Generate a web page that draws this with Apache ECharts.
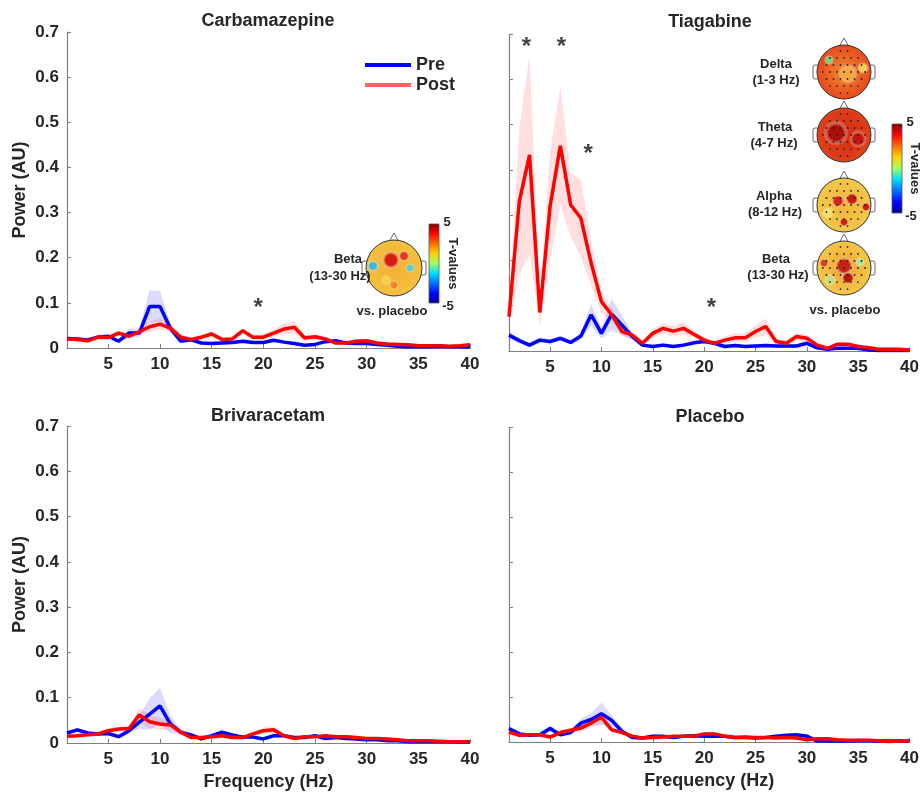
<!DOCTYPE html>
<html>
<head>
<meta charset="utf-8" />
<title>Power spectra</title>
<script src="https://cdn.jsdelivr.net/npm/echarts/dist/echarts.min.js"></script>
<style type="text/css">
	body{margin:0;background:#fff;}
	#main{width:922px;height:792px;}
</style>
</head>
<body>
<div id="main"></div>
<script type="text/javascript">
// frequency bins 1..40 Hz
var freqs = [1,2,3,4,5,6,7,8,9,10,11,12,13,14,15,16,17,18,19,20,21,22,23,24,25,26,27,28,29,30,31,32,33,34,35,36,37,38,39,40];
var xTicks = [5,10,15,20,25,30,35,40];
var panelNames = ['Carbamazepine','Tiagabine','Brivaracetam','Placebo'];

// Carbamazepine
var carbPre  = [0.021,0.020,0.018,0.024,0.026,0.015,0.033,0.033,0.092,0.092,0.044,0.015,0.018,0.011,0.010,0.011,0.012,0.015,0.012,0.012,0.017,0.013,0.010,0.006,0.008,0.014,0.016,0.011,0.010,0.010,0.008,0.006,0.004,0.003,0.003,0.003,0.004,0.003,0.003,0.002];
var carbPost = [0.020,0.019,0.016,0.024,0.023,0.033,0.026,0.036,0.047,0.053,0.044,0.024,0.019,0.024,0.031,0.019,0.020,0.038,0.024,0.024,0.033,0.042,0.046,0.022,0.025,0.020,0.011,0.011,0.015,0.016,0.011,0.009,0.008,0.007,0.005,0.005,0.005,0.004,0.005,0.007];
var carbPreErr  = [0.004,0.004,0.004,0.006,0.004,0.004,0.010,0.010,0.036,0.034,0.010,0.004,0.004,0.003,0.003,0.003,0.003,0.003,0.003,0.003,0.003,0.003,0.003,0.003,0.003,0.003,0.003,0.003,0.003,0.003,0.003,0.002,0.002,0.002,0.002,0.002,0.002,0.002,0.002,0.002];
var carbPostErr = [0.004,0.004,0.004,0.005,0.005,0.006,0.005,0.006,0.012,0.012,0.008,0.005,0.005,0.005,0.006,0.005,0.005,0.006,0.005,0.006,0.008,0.012,0.014,0.006,0.006,0.006,0.004,0.004,0.004,0.004,0.003,0.003,0.003,0.003,0.003,0.003,0.003,0.003,0.003,0.003];

// Tiagabine
var tiagPre  = [0.035,0.023,0.013,0.024,0.021,0.028,0.019,0.033,0.080,0.039,0.081,0.057,0.032,0.013,0.010,0.013,0.010,0.013,0.018,0.021,0.017,0.010,0.012,0.010,0.011,0.012,0.011,0.011,0.011,0.017,0.007,0.004,0.006,0.006,0.006,0.002,0.001,0.001,0.001,0.001];
var tiagPost = [0.076,0.330,0.433,0.085,0.320,0.453,0.323,0.293,0.194,0.109,0.080,0.043,0.035,0.017,0.039,0.050,0.044,0.050,0.037,0.024,0.017,0.024,0.029,0.029,0.043,0.054,0.021,0.017,0.032,0.028,0.013,0.006,0.015,0.015,0.010,0.007,0.004,0.004,0.004,0.002];
var tiagPreErr  = [0.008,0.006,0.005,0.006,0.005,0.006,0.005,0.008,0.025,0.012,0.035,0.022,0.008,0.004,0.004,0.004,0.004,0.004,0.004,0.004,0.004,0.004,0.004,0.004,0.004,0.004,0.004,0.004,0.004,0.004,0.003,0.003,0.003,0.003,0.003,0.002,0.002,0.002,0.002,0.002];
var tiagPostErr = [0.020,0.160,0.220,0.030,0.120,0.130,0.070,0.085,0.050,0.025,0.015,0.010,0.008,0.006,0.010,0.012,0.012,0.014,0.008,0.006,0.006,0.008,0.010,0.010,0.014,0.018,0.006,0.006,0.008,0.008,0.005,0.004,0.004,0.004,0.004,0.003,0.003,0.003,0.003,0.003];

// Brivaracetam
var brivPre  = [0.022,0.029,0.022,0.020,0.021,0.014,0.027,0.046,0.064,0.082,0.042,0.024,0.018,0.009,0.016,0.024,0.018,0.013,0.013,0.009,0.016,0.016,0.012,0.012,0.016,0.010,0.012,0.010,0.009,0.007,0.007,0.005,0.005,0.003,0.003,0.003,0.003,0.003,0.002,0.002];
var brivPost = [0.015,0.016,0.018,0.020,0.027,0.031,0.032,0.062,0.047,0.042,0.040,0.024,0.012,0.012,0.014,0.016,0.012,0.012,0.020,0.027,0.029,0.016,0.010,0.014,0.014,0.016,0.014,0.014,0.012,0.010,0.010,0.009,0.007,0.005,0.005,0.005,0.004,0.003,0.003,0.003];
var brivPreErr  = [0.004,0.004,0.004,0.004,0.004,0.004,0.005,0.015,0.035,0.040,0.020,0.006,0.004,0.003,0.003,0.004,0.003,0.003,0.003,0.003,0.003,0.003,0.003,0.003,0.003,0.003,0.003,0.003,0.003,0.002,0.002,0.002,0.002,0.002,0.002,0.002,0.002,0.002,0.002,0.002];
var brivPostErr = [0.004,0.004,0.004,0.004,0.005,0.005,0.005,0.016,0.014,0.014,0.010,0.005,0.003,0.003,0.003,0.003,0.003,0.003,0.005,0.008,0.008,0.004,0.003,0.003,0.003,0.003,0.003,0.003,0.003,0.003,0.003,0.003,0.002,0.002,0.002,0.002,0.002,0.002,0.002,0.002];

// Placebo
var placPre  = [0.030,0.018,0.015,0.016,0.030,0.016,0.021,0.042,0.050,0.063,0.048,0.024,0.010,0.009,0.013,0.013,0.010,0.013,0.014,0.013,0.013,0.013,0.010,0.010,0.009,0.010,0.013,0.015,0.016,0.013,0.002,0.003,0.002,0.002,0.003,0.003,0.002,0.002,0.002,0.002];
var placPost = [0.022,0.015,0.016,0.016,0.011,0.021,0.026,0.031,0.042,0.055,0.027,0.021,0.013,0.009,0.010,0.011,0.013,0.013,0.013,0.018,0.018,0.013,0.010,0.011,0.010,0.010,0.009,0.010,0.009,0.005,0.007,0.007,0.005,0.004,0.004,0.004,0.003,0.001,0.002,0.002];
var placPreErr  = [0.005,0.004,0.004,0.004,0.007,0.004,0.006,0.010,0.014,0.025,0.012,0.005,0.003,0.003,0.003,0.003,0.003,0.003,0.003,0.003,0.003,0.003,0.003,0.003,0.003,0.003,0.003,0.003,0.003,0.003,0.002,0.002,0.002,0.002,0.002,0.002,0.002,0.002,0.002,0.002];
var placPostErr = [0.004,0.004,0.004,0.004,0.004,0.005,0.005,0.008,0.010,0.013,0.006,0.004,0.003,0.003,0.003,0.003,0.003,0.003,0.003,0.004,0.004,0.003,0.003,0.003,0.003,0.003,0.003,0.003,0.003,0.002,0.002,0.002,0.002,0.002,0.002,0.002,0.002,0.002,0.002,0.002];

// significance stars  [Hz, power]
var carbStars = [[19.5,0.100]];
var tiagStars = [[2.7,0.683],[6.1,0.683],[8.7,0.447],[20.7,0.108]];

var preList  = [carbPre, tiagPre, brivPre, placPre];
var postList = [carbPost, tiagPost, brivPost, placPost];
var preErrList  = [carbPreErr, tiagPreErr, brivPreErr, placPreErr];
var postErrList = [carbPostErr, tiagPostErr, brivPostErr, placPostErr];
var starList = [carbStars, tiagStars, [], []];

var txt = '#262626';
var axisGray = '#7f7f7f';
var fontF = '"Liberation Sans", Arial, sans-serif';

var grids = [
	{left:67, top:32, width:403, height:316},
	{left:509, top:34, width:403, height:317},
	{left:67, top:426, width:403, height:318},
	{left:509, top:427, width:403, height:315}
];

function pairs(v){
	return freqs.map(function(f,i){ return [f, v[i]]; });
}
// band rows: [Hz, low, high]
function bandRows(v,e){
	return freqs.map(function(f,i){ return [f, Math.max(0, v[i]-e[i]), v[i]+e[i]]; });
}
// draws the whole shaded band as one polygon through the axis scale
function bandSeries(g, rows, color){
	return {
		name:'band', type:'custom', xAxisIndex:g, yAxisIndex:g, data:rows, silent:true, z:1,
		encode:{x:0, y:[1,2]},
		renderItem:function(params, api){
			if (params.dataIndex !== 0) return null;
			var top = [], bot = [];
			rows.forEach(function(r){
				top.push(api.coord([r[0], r[2]]));
				bot.unshift(api.coord([r[0], r[1]]));
			});
			return {type:'polygon', shape:{points:top.concat(bot)}, style:{fill:color, stroke:null}};
		}
	};
}

var xAxes = [], yAxes = [], series = [];
for (var g=0; g<4; g++){
	var bottomRow = g>=2, leftCol = (g%2)==0;
	xAxes.push({
		gridIndex:g, type:'value', min:1, max:40,
		name: bottomRow ? 'Frequency (Hz)' : '',
		nameLocation:'middle', nameGap:30,
		nameTextStyle:{color:txt, fontSize:18, fontWeight:'bold', fontFamily:fontF},
		axisLine:{lineStyle:{color:axisGray, width:1.2}},
		axisTick:{inside:true, length:4, customValues:xTicks, lineStyle:{color:axisGray}},
		axisLabel:{customValues:xTicks, color:txt, fontSize:17, fontWeight:'bold', fontFamily:fontF, margin:8},
		splitLine:{show:false}
	});
	yAxes.push({
		gridIndex:g, type:'value', min:0, max:0.7, interval:0.1,
		name: leftCol ? 'Power (AU)' : '',
		nameLocation:'middle', nameGap:38,
		nameTextStyle:{color:txt, fontSize:18, fontWeight:'bold', fontFamily:fontF},
		axisLine:{show:true, lineStyle:{color:axisGray, width:1.2}},
		axisTick:{show:true, inside:true, length:4, lineStyle:{color:axisGray}},
		axisLabel:{show:leftCol, color:txt, fontSize:17, fontWeight:'bold', fontFamily:fontF, margin:8,
			formatter:function(v){ return v===0 ? '0' : v.toFixed(1); }},
		splitLine:{show:false}
	});
	series.push(bandSeries(g, bandRows(preList[g], preErrList[g]), 'rgba(40,40,255,0.17)'));
	series.push(bandSeries(g, bandRows(postList[g], postErrList[g]), 'rgba(255,40,40,0.15)'));
	series.push({
		name:'Pre', type:'line', xAxisIndex:g, yAxisIndex:g, data:pairs(preList[g]),
		symbol:'none', lineStyle:{color:'#0000ff', width:3.5}, itemStyle:{color:'#0000ff'}, z:3
	});
	series.push({
		name:'Post', type:'line', xAxisIndex:g, yAxisIndex:g, data:pairs(postList[g]),
		symbol:'none', lineStyle:{color:'#ff0000', width:3.5}, itemStyle:{color:'#ff0000'}, z:4
	});
	if (starList[g].length){
		series.push({
			name:'stars', type:'scatter', xAxisIndex:g, yAxisIndex:g, data:starList[g],
			symbolSize:1, itemStyle:{color:'rgba(0,0,0,0)'}, silent:true, z:5,
			label:{show:true, position:'inside', formatter:'*', offset:[0,6],
				color:'#111', fontSize:24, fontWeight:'bold', fontFamily:fontF}
		});
	}
}

// topoplot decorations
var jet = [
	{offset:0, color:'#800000'},{offset:0.12, color:'#ff0000'},{offset:0.37, color:'#ffd000'},
	{offset:0.5, color:'#a0ff60'},{offset:0.62, color:'#00e0ff'},{offset:0.88, color:'#0000ff'},{offset:1, color:'#000090'}
];
function blob(cx,cy,rx,ry,color){
	return {type:'ellipse', shape:{cx:cx, cy:cy, rx:rx, ry:ry}, silent:true, z:10,
		style:{fill:{type:'radial', x:0.5, y:0.5, r:0.5, colorStops:[{offset:0, color:color},{offset:0.55, color:color},{offset:1, color:'rgba(255,255,255,0)'}]}}};
}
// electrode dots inside a head
function dots(cx,cy,r){
	var els = [];
	for (var yy=-3; yy<=3; yy++){
		for (var xx=-3; xx<=3; xx++){
			var px = cx + xx*r*0.26 + (yy%2 ? r*0.13 : 0), py = cy + yy*r*0.26;
			if ((px-cx)*(px-cx)+(py-cy)*(py-cy) < (r*0.86)*(r*0.86)){
				els.push({type:'circle', shape:{cx:px, cy:py, r:0.9}, z:11, silent:true, style:{fill:'#222'}});
			}
		}
	}
	return els;
}
function head(cx,cy,r,base,rim,blobs,withDots){
	var els = [];
	els.push({type:'polygon', shape:{points:[[cx-5,cy-r+2],[cx,cy-r-7],[cx+5,cy-r+2]]}, z:9, silent:true, style:{fill:'#fff', stroke:'#666', lineWidth:1}});
	els.push({type:'rect', shape:{x:cx-r-4, y:cy-7, width:6, height:14, r:2}, z:9, silent:true, style:{fill:'#fff', stroke:'#666', lineWidth:1}});
	els.push({type:'rect', shape:{x:cx+r-2, y:cy-7, width:6, height:14, r:2}, z:9, silent:true, style:{fill:'#fff', stroke:'#666', lineWidth:1}});
	els.push({type:'circle', shape:{cx:cx, cy:cy, r:r}, z:9, silent:true,
		style:{fill:{type:'radial', x:0.5, y:0.5, r:0.5, colorStops:[{offset:0, color:base},{offset:1, color:rim}]}}});
	blobs.forEach(function(b){ els.push(blob(cx+b[0], cy+b[1], b[2], b[3], b[4])); });
	if (withDots) els = els.concat(dots(cx,cy,r));
	els.push({type:'circle', shape:{cx:cx, cy:cy, r:r}, z:11, silent:true, style:{fill:'none', stroke:'#333', lineWidth:1}});
	return els;
}
function label(x,y,text,size,align){
	return {type:'text', x:x, y:y, z:12, silent:true,
		style:{text:text, fill:txt, font:'bold '+size+'px '+fontF, textAlign:align||'center', textVerticalAlign:'middle'}};
}
function colorbar(x,y,h,tx){
	return [
		{type:'rect', shape:{x:x, y:y, width:10, height:h}, z:10, silent:true,
			style:{fill:{type:'linear', x:0, y:0, x2:0, y2:1, colorStops:jet}, stroke:'#555', lineWidth:0.8}},
		label(x+18, y-2, '5', 13),
		label(x+19, y+h+3, '-5', 13),
		{type:'text', x:tx, y:y+h/2, rotation:-Math.PI/2, z:12, silent:true,
			style:{text:'T-values', fill:txt, font:'bold 13px '+fontF, textAlign:'center', textVerticalAlign:'middle'}}
	];
}

var graphics = [];
// panel titles
graphics.push(label(268,21,panelNames[0],18));
graphics.push(label(710,22,panelNames[1],18));
graphics.push(label(268,416,panelNames[2],18));
graphics.push(label(710,417,panelNames[3],18));

// Carbamazepine beta map
graphics = graphics.concat(head(394,268,28,'#f6b030','#f3c040',[[-21,-2,6,17,'#38b8e0'],[-3,-8,15,10,'#d42010'],[10,-12,9,6,'#e23818'],[16,0,5,6,'#50d0d0'],[0,17,10,5,'#f08020'],[-8,12,8,5,'#f7d040']],false));
graphics = graphics.concat(colorbar(429,224,79,453));
graphics.push(label(348,259,'Beta',13));
graphics.push(label(340,276,'(13-30 Hz)',13));
graphics.push(label(392,311,'vs. placebo',13));

// Tiagabine maps
graphics = graphics.concat(head(844,72,27,'#f08a30','#e84a1c',[[-15,-12,5,5,'#70d080'],[4,2,13,10,'#f5a838'],[19,-4,6,8,'#f6d050']],true));
graphics = graphics.concat(head(844,135,27,'#d42a14','#e04018',[[-8,-2,13,13,'#a81008'],[14,4,9,9,'#c01810']],true));
graphics = graphics.concat(head(844,205,27,'#f3b438','#f0c848',[[-6,-4,11,7,'#d42818'],[8,-6,7,7,'#c81a10'],[22,2,5,9,'#d02010'],[0,17,5,5,'#d02010'],[-16,8,8,6,'#f6e060']],true));
graphics = graphics.concat(head(844,268,27,'#f0a030','#f4c848',[[0,-2,10,11,'#c82010'],[4,10,7,8,'#b81808'],[-14,12,6,7,'#b8e080'],[16,-6,5,5,'#a8e898'],[-20,-5,5,7,'#d84020']],true));
graphics = graphics.concat(colorbar(892,124,89,915));
graphics.push(label(776,64,'Delta',13));
graphics.push(label(776,80,'(1-3 Hz)',13));
graphics.push(label(775,127,'Theta',13));
graphics.push(label(774,143,'(4-7 Hz)',13));
graphics.push(label(774,196,'Alpha',13));
graphics.push(label(775,212,'(8-12 Hz)',13));
graphics.push(label(776,259,'Beta',13));
graphics.push(label(778,275,'(13-30 Hz)',13));
graphics.push(label(845,310,'vs. placebo',13));

var myChart = echarts.init(document.getElementById('main'), null, {renderer:'canvas'});
var option = {
	animation:false,
	backgroundColor:'#ffffff',
	textStyle:{fontFamily:fontF},
	legend:{
		left:360, top:50, orient:'vertical', itemGap:0, itemWidth:46, itemHeight:4,
		icon:'rect', selectedMode:false,
		data:[{name:'Pre', itemStyle:{color:'#0000ff'}}, {name:'Post', itemStyle:{color:'#ff6262'}}],
		textStyle:{color:txt, fontSize:18, fontWeight:'bold', fontFamily:fontF, lineHeight:20}
	},
	grid:grids,
	xAxis:xAxes,
	yAxis:yAxes,
	series:series,
	graphic:graphics
};
myChart.setOption(option);
</script>
</body>
</html>
